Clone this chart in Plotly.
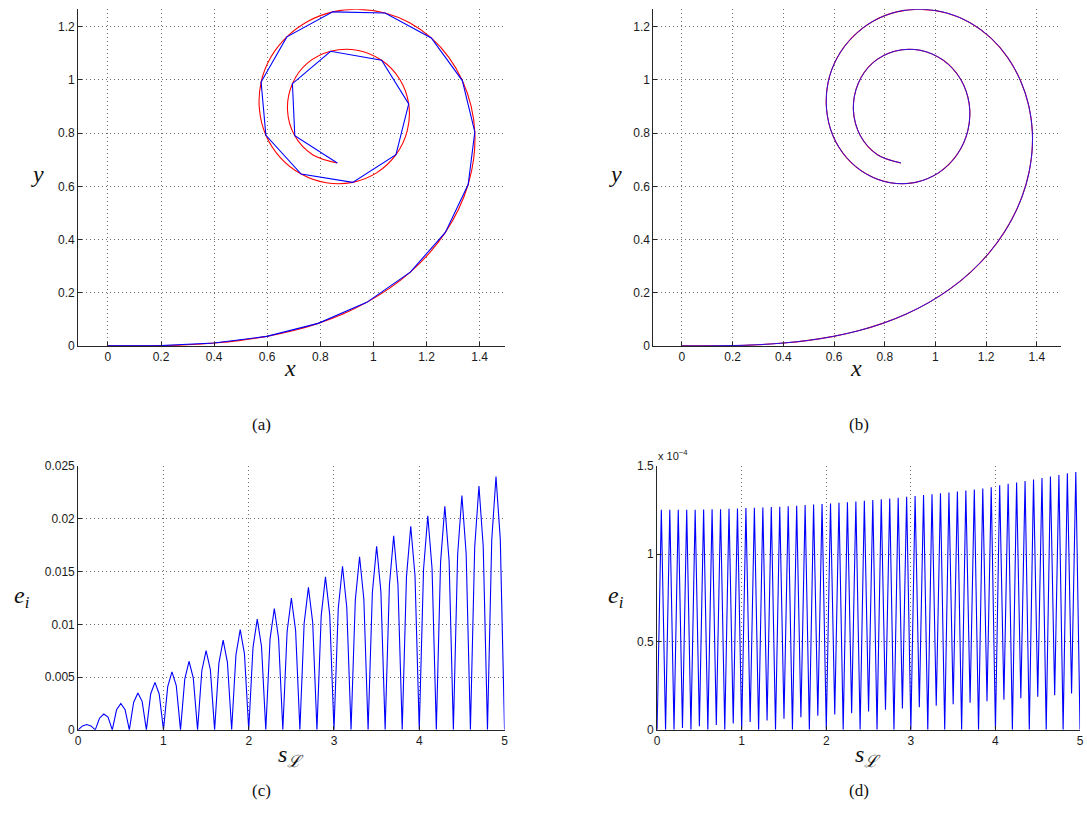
import plotly.graph_objects as go

W, H = 1087, 815

# ---------------- data ----------------
# polyline vertices (s = 0, 0.2, ..., 5.0)
spiral_x = [0.0, 0.2, 0.4, 0.598, 0.792, 0.975, 1.139, 1.271, 1.357, 1.382,
            1.335, 1.218, 1.044, 0.847, 0.674, 0.577, 0.595, 0.728, 0.922, 1.085,
            1.133, 1.031, 0.839, 0.695, 0.704, 0.864]
spiral_y = [0.0, 0.0013, 0.0107, 0.0359, 0.0847, 0.1637, 0.2775, 0.4269, 0.6068, 0.8043,
            0.9976, 1.158, 1.252, 1.256, 1.162, 0.992, 0.792, 0.646, 0.615, 0.719,
            0.910, 1.074, 1.108, 0.986, 0.790, 0.688]

# smooth curve points (s = 0, 0.1, ..., 5.0)
curve_x = [0.0, 0.1, 0.2, 0.3001, 0.4, 0.4993, 0.598, 0.6959, 0.792, 0.8853,
           0.975, 1.0601, 1.139, 1.2099, 1.271, 1.3208, 1.357, 1.3779, 1.382, 1.3677,
           1.335, 1.285, 1.218, 1.1365, 1.044, 0.9458, 0.847, 0.7541, 0.674, 0.6129,
           0.577, 0.5706, 0.595, 0.6494, 0.728, 0.8223, 0.922, 1.0134, 1.085, 1.1277,
           1.133, 1.0992, 1.031, 0.9387, 0.839, 0.7526, 0.695, 0.6764, 0.704, 0.7711,
           0.864]
curve_y = [0.0, 0.00015, 0.0013, 0.0045, 0.0107, 0.0208, 0.0359, 0.0569, 0.0847, 0.1201,
           0.1637, 0.2161, 0.2775, 0.3479, 0.4269, 0.5137, 0.6068, 0.7045, 0.8043, 0.9032,
           0.9976, 1.084, 1.158, 1.2151, 1.252, 1.2655, 1.256, 1.2209, 1.162, 1.0842,
           0.992, 0.8906, 0.792, 0.708, 0.646, 0.6133, 0.615, 0.6515, 0.719, 0.8098,
           0.910, 1.0027, 1.074, 1.1119, 1.108, 1.0639, 0.986, 0.8869, 0.790, 0.7188,
           0.688]

# panel (c): error per segment (segment length 0.2, samples every 0.05)
c_peak = [0.0005, 0.0015, 0.0025, 0.0035, 0.0045, 0.0055, 0.0065, 0.0075, 0.0085, 0.0095,
          0.0105, 0.0115, 0.0125, 0.0135, 0.0145, 0.0155, 0.0164, 0.0174, 0.0184, 0.0193,
          0.0203, 0.0212, 0.0222, 0.0231, 0.0240]
c_left = [0.00037, 0.0011, 0.0019, 0.0026, 0.0034, 0.0041, 0.0048, 0.0056, 0.0063, 0.0071,
          0.0078, 0.0086, 0.0093, 0.0101, 0.0108, 0.0115, 0.0123, 0.0130, 0.0137, 0.0145,
          0.0152, 0.0159, 0.0166, 0.0173, 0.0180]
c_right = [0.00037, 0.0012, 0.0019, 0.0027, 0.0034, 0.0042, 0.0049, 0.0057, 0.0064, 0.0072,
           0.0079, 0.0087, 0.0094, 0.0102, 0.0109, 0.0116, 0.0124, 0.0131, 0.0138, 0.0146,
           0.0153, 0.0160, 0.0167, 0.0174, 0.0181]

# panel (d): values in units of 1e-4
d_peak = [1.252, 1.251, 1.251, 1.251, 1.252, 1.253, 1.254, 1.255, 1.257, 1.259,
          1.261, 1.263, 1.265, 1.267, 1.269, 1.272, 1.275, 1.278, 1.281, 1.284,
          1.287, 1.291, 1.295, 1.299, 1.303, 1.307, 1.311, 1.316, 1.320, 1.325,
          1.330, 1.335, 1.340, 1.345, 1.350, 1.356, 1.361, 1.367, 1.373, 1.380,
          1.391, 1.399, 1.407, 1.415, 1.424, 1.432, 1.441, 1.450, 1.459, 1.467]
d_bottom = [0.0, 0.0, 0.011, 0.0, 0.021, 0.0, 0.028, 0.0, 0.036, 0.0,
            0.044, 0.0, 0.053, 0.0, 0.063, 0.0, 0.072, 0.0, 0.080, 0.0,
            0.087, 0.0, 0.095, 0.0, 0.104, 0.0, 0.114, 0.0, 0.121, 0.0,
            0.129, 0.0, 0.137, 0.0, 0.146, 0.0, 0.154, 0.0, 0.163, 0.0,
            0.171, 0.0, 0.180, 0.0, 0.188, 0.0, 0.197, 0.0, 0.207]

x_ticks_ab = [0, 0.2, 0.4, 0.6, 0.8, 1, 1.2, 1.4]
y_ticks_ab = [0, 0.2, 0.4, 0.6, 0.8, 1, 1.2]
s_ticks = [0, 1, 2, 3, 4, 5]
c_yticks = [0, 0.005, 0.01, 0.015, 0.02, 0.025]
d_yticks = [0, 0.5, 1, 1.5]
d_yticktext = ["0", "0.5", "1", "1.5"]

# build sampled series for (c) and (d)
c_s, c_e = [], []
for k in range(len(c_peak)):
    a = round(0.2 * k, 4)
    c_s += [a, round(a + 0.05, 4), round(a + 0.1, 4), round(a + 0.15, 4)]
    c_e += [0.0, c_left[k], c_peak[k], c_right[k]]
c_s.append(5.0)
c_e.append(0.0)

d_s, d_e = [0.0], [0.0]
for k in range(len(d_peak)):
    d_s.append(round(0.1 * k + 0.05, 4))
    d_e.append(d_peak[k])
    d_s.append(round(0.1 * (k + 1), 4))
    d_e.append(d_bottom[k] if k < len(d_bottom) else 0.0)

# ---------------- placement ----------------
# the photographed page comes out slightly shrunk about its centre; place
# every element so that it lands at the reference pixel position
CX, CY = W / 2, H / 2
SX, SY = 0.9944, 0.9812

def px(x):
    return min(max((CX + (x - CX) / SX) / W, 0.0), 1.0)

def py(y):
    return min(max(1 - (CY + (y - CY) / SY) / H, 0.0), 1.0)

fig = go.Figure()

fig.add_trace(go.Scatter(x=curve_x, y=curve_y, mode="lines",
                         line=dict(color="#ff0000", width=1.1, shape="spline", smoothing=1),
                         xaxis="x", yaxis="y", hoverinfo="skip"))
fig.add_trace(go.Scatter(x=spiral_x, y=spiral_y, mode="lines",
                         line=dict(color="#0000ff", width=1.1),
                         xaxis="x", yaxis="y", hoverinfo="skip"))
fig.add_trace(go.Scatter(x=curve_x, y=curve_y, mode="lines",
                         line=dict(color="#ff0000", width=1.1, shape="spline", smoothing=1),
                         xaxis="x2", yaxis="y2", hoverinfo="skip"))
fig.add_trace(go.Scatter(x=curve_x, y=curve_y, mode="lines",
                         line=dict(color="#2a10e8", width=1.0, shape="spline", smoothing=1),
                         xaxis="x2", yaxis="y2", hoverinfo="skip"))
fig.add_trace(go.Scatter(x=c_s, y=c_e, mode="lines",
                         line=dict(color="#0000ff", width=1.1),
                         xaxis="x3", yaxis="y3", hoverinfo="skip"))
fig.add_trace(go.Scatter(x=d_s, y=d_e, mode="lines",
                         line=dict(color="#0000ff", width=1.1),
                         xaxis="x4", yaxis="y4", hoverinfo="skip"))

tickfont = dict(family="Liberation Sans, Arial, sans-serif", size=12, color="#1a1a1a")
common = dict(showline=True, linecolor="#262626", linewidth=1, mirror=False,
              ticks="inside", ticklen=4, tickcolor="#262626", tickwidth=1,
              showgrid=True, gridcolor="#6e6e6e", griddash="1px,3px", gridwidth=1,
              zeroline=False, tickfont=tickfont, fixedrange=True)

dom_a_x = [px(78.3), px(505)]
dom_b_x = [px(654), px(1061.7)]
dom_top_y = [py(346), py(10)]
dom_c_x = [px(78.3), px(505)]
dom_d_x = [px(657.7), px(1081)]
dom_bot_y = [py(729.3), py(466)]

fig.update_layout(
    width=W, height=H, autosize=False,
    margin=dict(l=0, r=0, t=0, b=0),
    paper_bgcolor="white", plot_bgcolor="white",
    showlegend=False,
    xaxis=dict(domain=dom_a_x, anchor="y", range=[-0.112, 1.494], tickvals=x_ticks_ab, **common),
    yaxis=dict(domain=dom_top_y, anchor="x", range=[0, 1.2655], tickvals=y_ticks_ab, **common),
    xaxis2=dict(domain=dom_b_x, anchor="y2", range=[-0.112, 1.494], tickvals=x_ticks_ab, **common),
    yaxis2=dict(domain=dom_top_y, anchor="x2", range=[0, 1.2655], tickvals=y_ticks_ab, **common),
    xaxis3=dict(domain=dom_c_x, anchor="y3", range=[0, 5], tickvals=s_ticks, **common),
    yaxis3=dict(domain=dom_bot_y, anchor="x3", range=[0, 0.025], tickvals=c_yticks, **common),
    xaxis4=dict(domain=dom_d_x, anchor="y4", range=[0, 5], tickvals=s_ticks, **common),
    yaxis4=dict(domain=dom_bot_y, anchor="x4", range=[0, 1.5], tickvals=d_yticks,
                ticktext=d_yticktext, **common),
)

mathfont = dict(family="Liberation Serif, DejaVu Serif, serif", size=24, color="#111111")
capfont = dict(family="Liberation Serif, DejaVu Serif, serif", size=17, color="#111111")

ann = [
    ("<i>x</i>", 290, 368, mathfont),
    ("<i>y</i>", 38, 174, mathfont),
    ("<i>x</i>", 857, 368, mathfont),
    ("<i>y</i>", 616, 174, mathfont),
    ("<i>e<sub>i</sub></i>", 22, 597, mathfont),
    ("<i>s<sub>ℒ</sub></i>", 291, 755, mathfont),
    ("<i>e<sub>i</sub></i>", 617, 597, mathfont),
    ("<i>s<sub>ℒ</sub></i>", 869, 755, mathfont),
    ("(a)", 262, 424, capfont),
    ("(b)", 860, 424, capfont),
    ("(c)", 262, 790, capfont),
    ("(d)", 860, 790, capfont),
]
annotations = []
for text, x, y, f in ann:
    annotations.append(dict(text=text, x=px(x), y=py(y), xref="paper", yref="paper",
                            showarrow=False, xanchor="center", yanchor="middle", font=f))
annotations.append(dict(text="x 10<sup>−4</sup>", x=px(657), y=py(455), xref="paper",
                        yref="paper", showarrow=False, xanchor="left", yanchor="middle",
                        font=dict(family="Liberation Sans, Arial, sans-serif", size=11,
                                  color="#1a1a1a")))
fig.update_layout(annotations=annotations)

fig.write_html("out.html", config={"displayModeBar": False, "responsive": False},
               post_script="document.body.style.margin='0';document.body.style.overflow='hidden';")
